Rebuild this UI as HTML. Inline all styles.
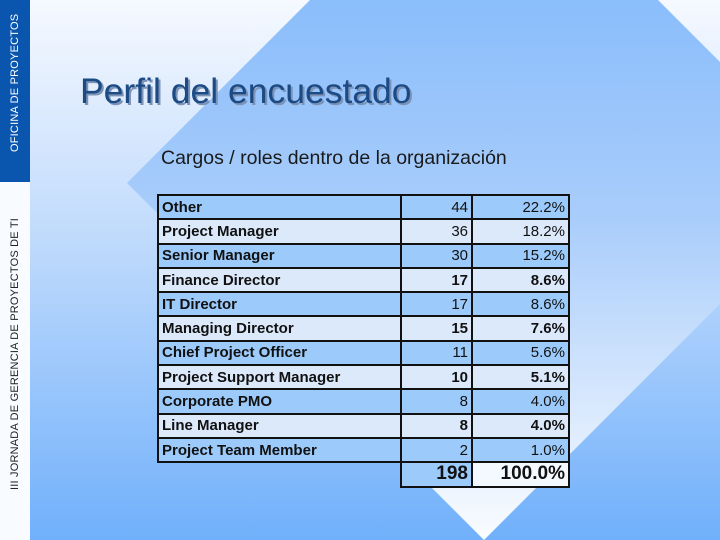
<!DOCTYPE html>
<html><head><meta charset="utf-8"><style>
body{margin:0;width:720px;height:540px;overflow:hidden;font-family:"Liberation Sans",sans-serif}
#wrap{position:relative;width:720px;height:540px}
svg.bg{position:absolute;left:0;top:0}
.side{position:absolute;left:0;width:30px}
.vt{position:absolute;transform:rotate(-90deg);transform-origin:left top;white-space:nowrap;font-size:11px;letter-spacing:0.2px}
h1{position:absolute;left:80px;top:71px;margin:0;font-weight:normal;font-size:35.5px;color:#1b4a84;text-shadow:2px 2px 0 #7c93b5}
.sub{position:absolute;left:161px;top:147px;font-size:19.5px;color:#1a1a1a}
table{position:absolute;left:157px;top:194px;border-collapse:collapse;width:413px}
td{border:2px solid #111;height:22px;padding:0 3px;font-size:15px;font-weight:bold;color:#111;box-sizing:border-box}
tr{height:24.3px}
td.n{text-align:right;font-weight:normal}
td.b{font-weight:bold}
tr.d td{background:#9ccbfb}
tr.l td{background:#dce9fb}
</style></head><body>
<div id="wrap">
<svg class="bg" width="720" height="540">
<defs>
<linearGradient id="out" x1="0" y1="0" x2="0" y2="1"><stop offset="0" stop-color="#f6f9ff"/><stop offset="0.5" stop-color="#b8d6fc"/><stop offset="1" stop-color="#70b0fb"/></linearGradient>
<linearGradient id="inn" x1="0" y1="0" x2="0" y2="1"><stop offset="0" stop-color="#72b1fb"/><stop offset="0.55" stop-color="#a9cdfb"/><stop offset="1" stop-color="#fafcff"/></linearGradient>
</defs>
<rect width="720" height="540" fill="url(#out)"/>
<polygon points="484,-174 841,183 484,540 127,183" fill="url(#inn)"/>
</svg>
<div class="side" style="top:0;height:182px;background:#0a55ae"></div>
<div class="side" style="top:182px;height:358px;background:#f8fbff"></div>
<div class="vt" style="left:9px;top:152px;color:#fff">OFICINA DE PROYECTOS</div>
<div class="vt" style="left:9px;top:490px;color:#222">III JORNADA DE GERENCIA DE PROYECTOS DE TI</div>
<h1>Perfil del encuestado</h1>
<div class="sub">Cargos / roles dentro de la organización</div>
<table id="t"></table>
</div>
<script>
const roles=["Other","Project Manager","Senior Manager","Finance Director","IT Director","Managing Director","Chief Project Officer","Project Support Manager","Corporate PMO","Line Manager","Project Team Member"];
const counts=[44,36,30,17,17,15,11,10,8,8,2];
const pcts=["22.2%","18.2%","15.2%","8.6%","8.6%","7.6%","5.6%","5.1%","4.0%","4.0%","1.0%"];
const total="198", totalPct="100.0%";
const t=document.getElementById('t');
roles.forEach((r,i)=>{
 const tr=document.createElement('tr');
 tr.className=i%2?'l':'d';
 
 
 const bold=(i%2===1&&i>=3)?' b':'';
 tr.innerHTML='<td style="width:243px">'+r+'</td><td class="n'+bold+'" style="width:71px">'+counts[i]+'</td><td class="n'+bold+'">'+pcts[i]+'</td>';
 t.appendChild(tr);
});
const tr=document.createElement('tr');


tr.innerHTML='<td style="border:none;background:none"></td><td class="n" style="background:#9ccbfb;font-weight:bold;font-size:19px">'+total+'</td><td class="n" style="background:#f4f8ff;font-weight:bold;font-size:19px">'+totalPct+'</td>';
t.appendChild(tr);
</script>
</body></html>
